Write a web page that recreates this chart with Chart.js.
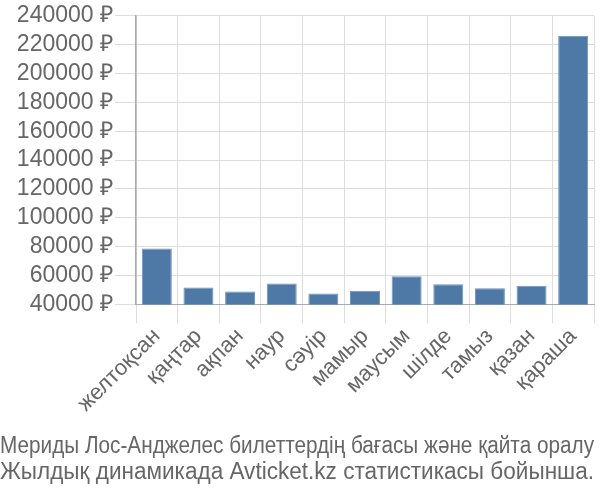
<!DOCTYPE html>
<html>
<head>
<meta charset="utf-8">
<script src="https://cdn.jsdelivr.net/npm/chart.js@4/dist/chart.umd.min.js"></script>
<style>
  html, body { margin: 0; padding: 0; background: #fff; }
  #wrap { width: 600px; height: 500px; }
</style>
</head>
<body>
<div id="wrap"><canvas id="priceChart" width="600" height="500"></canvas></div>
<script>
// Months (Kazakh) and average ticket prices
const months = ['желтоқсан', 'қаңтар', 'ақпан', 'наур', 'сәуір', 'мамыр', 'маусым', 'шілде', 'тамыз', 'қазан', 'қараша'];
const prices = [78800, 51700, 49000, 54500, 47600, 49400, 59500, 54000, 51200, 52900, 226200];
const yTicks = [40000, 60000, 80000, 100000, 120000, 140000, 160000, 180000, 200000, 220000, 240000];
const caption = [
    'Мериды Лос-Анджелес билеттердің бағасы және қайта оралу',
    'Жылдық динамикада Avticket.kz статистикасы бойынша.'
];

const ctx = document.getElementById('priceChart').getContext('2d');
const priceChart = new Chart(ctx, {
    type: 'bar',
    data: {
        labels: months,
        datasets: [{
            data: prices,
            backgroundColor: '#4e79a7',
            borderColor: '#6f93bb',
            borderWidth: 1
        }]
    },
    options: {
        responsive: false,
        animation: false,
        layout: { padding: { top: 2, left: 0, right: 6, bottom: 15 } },
        plugins: {
            legend: { display: false },
            tooltip: { enabled: false },
            title: {
                display: true,
                position: 'bottom',
                align: 'start',
                text: caption,
                color: '#666',
                font: { family: "'Liberation Sans Narrow', 'Liberation Sans', sans-serif", size: 23, weight: 'normal', lineHeight: 1.1 },
                padding: { top: 12, bottom: 0 }
            }
        },
        scales: {
            x: {
                grid: { color: '#ddd', tickLength: 19 },
                border: { color: '#aaa' },
                afterFit: (scale) => { scale.height = 118; },
                ticks: {
                    color: '#666',
                    font: { family: "'Liberation Sans', sans-serif", size: 22 },
                    maxRotation: 45,
                    minRotation: 45,
                    autoSkip: false,
                    padding: 0
                }
            },
            y: {
                min: 40000,
                max: 240000,
                grid: { color: '#ddd', tickLength: 21 },
                border: { color: '#aaa', width: 1.5 },
                afterBuildTicks: (scale) => {
                    scale.ticks = yTicks.map(v => ({ value: v }));
                },
                afterFit: (scale) => { scale.width = 136; },
                ticks: {
                    color: '#666',
                    font: { family: "'Liberation Sans', sans-serif", size: 23 },
                    autoSkip: false,
                    padding: 2,
                    callback: (v) => v + ' ₽'
                }
            }
        }
    }
});
</script>
</body>
</html>
